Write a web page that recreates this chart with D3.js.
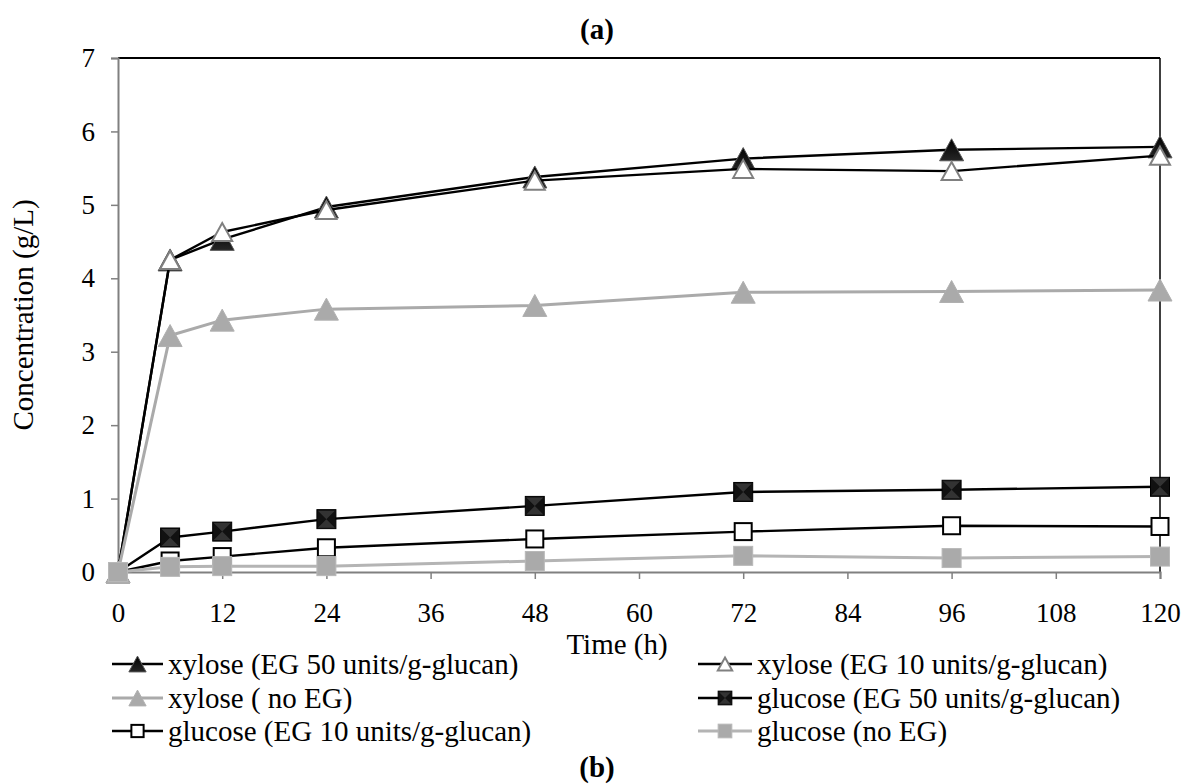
<!DOCTYPE html>
<html>
<head>
<meta charset="utf-8">
<script src="https://cdn.jsdelivr.net/npm/d3@7/dist/d3.min.js"></script>
<style>
  html, body { margin: 0; padding: 0; background: #fff; }
  svg { display: block; font-family: "Liberation Serif", "Times New Roman", serif; }
</style>
</head>
<body>
<svg id="chart" width="1185" height="784"></svg>
<script>
// ---- data ----
const times = [0, 6, 12, 24, 48, 72, 96, 120];
const xyloseEG50 = [0, 4.25, 4.53, 4.97, 5.38, 5.63, 5.75, 5.79];
const xyloseEG10 = [0, 4.25, 4.63, 4.93, 5.33, 5.49, 5.46, 5.67];
const xyloseNoEG = [0, 3.22, 3.43, 3.58, 3.63, 3.81, 3.82, 3.84];
const glucoseEG50 = [0, 0.47, 0.55, 0.72, 0.90, 1.09, 1.12, 1.16];
const glucoseEG10 = [0, 0.15, 0.21, 0.33, 0.45, 0.55, 0.63, 0.62];
const glucoseNoEG = [0, 0.07, 0.08, 0.08, 0.15, 0.22, 0.19, 0.21];
const xTicks = [0, 12, 24, 36, 48, 60, 72, 84, 96, 108, 120];
const yTicks = [0, 1, 2, 3, 4, 5, 6, 7];
const seriesNames = [
  "xylose (EG 50 units/g-glucan)",
  "xylose (EG 10 units/g-glucan)",
  "xylose ( no EG)",
  "glucose (EG 50 units/g-glucan)",
  "glucose (EG 10 units/g-glucan)",
  "glucose (no EG)"
];
const seriesValues = [xyloseEG50, xyloseEG10, xyloseNoEG, glucoseEG50, glucoseEG10, glucoseNoEG];

// ---- styles ----
const FS = "27px";
const FS2 = "29px";
const styles = [
  { line: "#000", lw: 2.4, marker: "triBlack" },
  { line: "#000", lw: 2.4, marker: "triOpen" },
  { line: "#aaaaaa", lw: 3, marker: "triGray" },
  { line: "#000", lw: 2.4, marker: "sqBlack" },
  { line: "#000", lw: 2.4, marker: "sqOpen" },
  { line: "#b4b4b4", lw: 3, marker: "sqGray" }
];

const svg = d3.select("#chart");
const defs = svg.append("defs");
const gTri = defs.append("linearGradient").attr("id", "gTri").attr("x1", 0).attr("y1", 0).attr("x2", 0).attr("y2", 1);
gTri.append("stop").attr("offset", "0%").attr("stop-color", "#000");
gTri.append("stop").attr("offset", "100%").attr("stop-color", "#262626");

const x = d3.scaleLinear().domain([0, 120]).range([118, 1160]);
const y = d3.scaleLinear().domain([0, 7]).range([572, 58]);

// plot-area border (top & right)
svg.append("line").attr("x1", x(0)).attr("x2", x(120)).attr("y1", y(7)).attr("y2", y(7))
  .attr("stroke", "#000").attr("stroke-width", 2);
svg.append("line").attr("x1", x(120)).attr("x2", x(120)).attr("y1", y(7)).attr("y2", y(0))
  .attr("stroke", "#000").attr("stroke-width", 1.5);

// axes
const xAxis = d3.axisBottom(x).tickValues(xTicks).tickSize(7).tickPadding(24).tickFormat(d3.format("d"));
const yAxis = d3.axisLeft(y).tickValues(yTicks).tickSize(7).tickPadding(16).tickFormat(d3.format("d"));
const gx = svg.append("g").attr("transform", `translate(0,${y(0)})`).call(xAxis);
const gy = svg.append("g").attr("transform", `translate(${x(0)},0)`).call(yAxis);
[gx, gy].forEach(g => {
  g.select(".domain").attr("stroke", "#808080").attr("stroke-width", 2);
  g.selectAll(".tick line").attr("stroke", "#808080").attr("stroke-width", 1.5);
  g.selectAll(".tick text").attr("fill", "#000").style("font-size", FS)
    .style("font-family", "'Liberation Serif', 'Times New Roman', serif");
});
gx.selectAll(".tick text").attr("dy", "0.71em");

// titles
svg.append("text").attr("x", 597).attr("y", 39).attr("text-anchor", "middle")
  .style("font-size", FS2).style("font-weight", "bold").text("(a)");
svg.append("text").attr("x", 617).attr("y", 654).attr("text-anchor", "middle")
  .style("font-size", FS2).text("Time (h)");
svg.append("text").attr("transform", `translate(33,${(y(0) + y(7)) / 2}) rotate(-90)`)
  .attr("text-anchor", "middle").style("font-size", FS2).text("Concentration (g/L)");
svg.append("text").attr("x", 597).attr("y", 777).attr("text-anchor", "middle")
  .style("font-size", FS2).style("font-weight", "bold").text("(b)");

// marker drawing
function drawMarker(g, type, cx, cy, s) {
  if (type.startsWith("tri")) {
    const w = (type === "triOpen" ? 20 : 24) * s, h = (type === "triOpen" ? 18 : 22) * s;
    const p = `M${cx},${cy - h / 2}L${cx + w / 2},${cy + h / 2}L${cx - w / 2},${cy + h / 2}Z`;
    const el = g.append("path").attr("d", p);
    if (type === "triBlack") el.attr("fill", "url(#gTri)").attr("stroke", "#555").attr("stroke-width", 1);
    else if (type === "triOpen") el.attr("fill", "#fff").attr("stroke", "#808080").attr("stroke-width", 2);
    else el.attr("fill", "#aaaaaa").attr("stroke", "#b0b0b0").attr("stroke-width", 1);
  } else {
    const a = (type === "sqOpen" ? 17 : 19) * s;
    if (type === "sqBlack") {
      g.append("rect").attr("x", cx - a / 2).attr("y", cy - a / 2).attr("width", a).attr("height", a)
        .attr("fill", "#111").attr("stroke", "#000").attr("stroke-width", 1);
      const i = a / 2 - 1;
      g.append("path").attr("d", `M${cx - i},${cy - i}L${cx + i},${cy - i}L${cx},${cy}Z M${cx - i},${cy + i}L${cx + i},${cy + i}L${cx},${cy}Z`)
        .attr("fill", "#333");
    } else if (type === "sqOpen") {
      g.append("rect").attr("x", cx - a / 2).attr("y", cy - a / 2).attr("width", a).attr("height", a)
        .attr("fill", "#fff").attr("stroke", "#000").attr("stroke-width", 2);
    } else {
      g.append("rect").attr("x", cx - a / 2).attr("y", cy - a / 2).attr("width", a).attr("height", a)
        .attr("fill", "#aaaaaa").attr("stroke", "#b8b8b8").attr("stroke-width", 1);
    }
  }
}

// series
const line = d3.line().x(d => x(d[0])).y(d => y(d[1]));
seriesValues.forEach((vals, i) => {
  const st = styles[i];
  const pts = times.map((t, j) => [t, vals[j]]);
  const g = svg.append("g");
  g.append("path").datum(pts).attr("d", line).attr("fill", "none")
    .attr("stroke", st.line).attr("stroke-width", st.lw).attr("stroke-linejoin", "round");
  pts.forEach(p => drawMarker(g, st.marker, x(p[0]), y(p[1]), 1));
});

// legend
const legendPos = [
  { lx1: 112, lx2: 163, tx: 168, y: 664, idx: 0 },
  { lx1: 698, lx2: 752, tx: 757, y: 664, idx: 1 },
  { lx1: 112, lx2: 163, tx: 168, y: 698, idx: 2 },
  { lx1: 698, lx2: 752, tx: 757, y: 698, idx: 3 },
  { lx1: 112, lx2: 163, tx: 168, y: 731, idx: 4 },
  { lx1: 698, lx2: 752, tx: 757, y: 731, idx: 5 }
];
legendPos.forEach(lp => {
  const st = styles[lp.idx];
  const g = svg.append("g");
  g.append("line").attr("x1", lp.lx1).attr("x2", lp.lx2).attr("y1", lp.y).attr("y2", lp.y)
    .attr("stroke", st.line).attr("stroke-width", st.lw);
  drawMarker(g, st.marker, (lp.lx1 + lp.lx2) / 2, lp.y, 0.72);
  g.append("text").attr("x", lp.tx).attr("y", lp.y + 10).style("font-size", FS2).text(seriesNames[lp.idx]);
});
</script>
</body>
</html>
